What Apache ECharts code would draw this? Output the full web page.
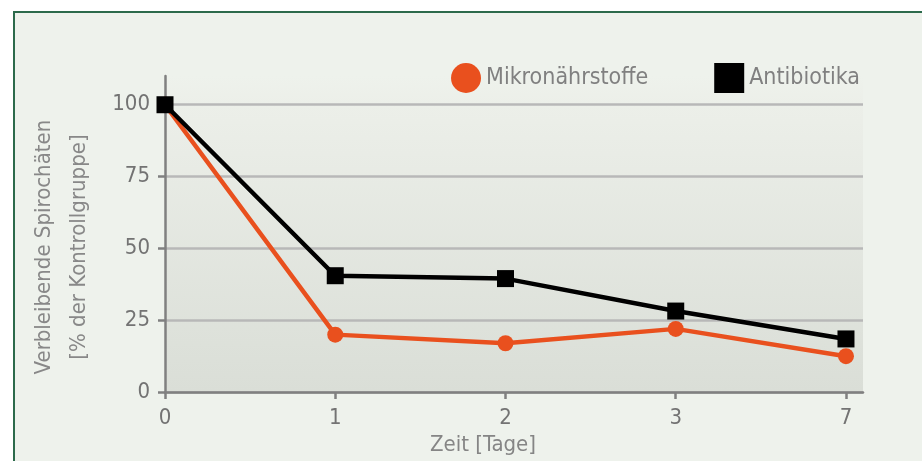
<!DOCTYPE html>
<html>
<head>
<meta charset="utf-8">
<script src="https://cdn.jsdelivr.net/npm/echarts@6/dist/echarts.min.js"></script>
<style>
  html, body { margin:0; padding:0; background:#ffffff; overflow:hidden; }
  #frame { position:absolute; left:13px; top:11px; width:1000px; height:1000px;
           border:2px solid #2c6a4b; background:#eef2ec; }
  #chart { position:absolute; left:0; top:0; width:922px; height:461px; }
</style>
</head>
<body>
<div id="frame"></div>
<div id="chart"></div>
<script>
const categories = ['0', '1', '2', '3', '7'];
const mikronaehrstoffe = [100, 20, 17, 22, 12.5];
const antibiotika = [100, 40.5, 39.5, 28.2, 18.5];
const yTicks = [0, 25, 50, 75, 100];
const xTicks = [0, 1, 2, 3, 4];
const Y_MAX = 110;
const X_MAX = 4.1;

const FONT = "'DejaVu Sans Condensed', 'DejaVu Sans', sans-serif";
const GRAY = '#737373';

const chart = echarts.init(document.getElementById('chart'), null, {renderer: 'canvas'});

function toPairs(arr) { return arr.map((v, i) => [i, v]); }

const topFrac = (Y_MAX - yTicks[yTicks.length - 1]) / Y_MAX;

chart.setOption({
  backgroundColor: 'transparent',
  animation: false,
  textStyle: { fontFamily: FONT },
  grid: {
    left: 165, right: 59, top: 76, bottom: 68, containLabel: false,
    show: true, borderWidth: 0,
    backgroundColor: new echarts.graphic.LinearGradient(0, 0, 0, 1, [
      { offset: 0, color: '#eef2ec' },
      { offset: topFrac, color: '#ecefe9' },
      { offset: 1, color: '#dadeD7' }
    ])
  },
  legend: {
    right: 57, top: 58,
    itemWidth: 30, itemHeight: 30, itemGap: 66,
    textStyle: { fontFamily: FONT, fontSize: 23, color: '#808080' },
    data: [
      { name: 'Mikronährstoffe', icon: 'circle' },
      { name: 'Antibiotika', icon: 'rect' }
    ]
  },
  xAxis: {
    type: 'value', min: 0, max: X_MAX,
    name: 'Zeit [Tage]', nameLocation: 'middle', nameGap: 39,
    nameTextStyle: { fontFamily: FONT, fontSize: 22, color: '#858585', padding: [0, 62, 0, 0] },
    axisLine: { show: true, lineStyle: { color: '#808080', width: 2.5 } },
    axisTick: { show: true, length: 7, customValues: xTicks, lineStyle: { color: '#808080', width: 2.5 } },
    axisLabel: { customValues: xTicks, margin: 15, fontFamily: FONT, fontSize: 22, color: GRAY,
                 formatter: v => categories[Math.round(v)] },
    splitLine: { show: false }
  },
  yAxis: {
    type: 'value', min: 0, max: Y_MAX,
    name: 'Verbleibende Spirochäten\n[% der Kontrollgruppe]',
    nameLocation: 'middle', nameRotate: 90, nameGap: 68,
    nameTextStyle: { fontFamily: FONT, fontSize: 22, color: '#888888', lineHeight: 35,
                     align: 'center', padding: [0, 26, 0, 0] },
    axisLine: { show: true, lineStyle: { color: '#808080', width: 2.5 } },
    axisTick: { show: true, length: 7, customValues: yTicks, lineStyle: { color: '#808080', width: 2.5 } },
    axisLabel: { customValues: yTicks, margin: 15, fontFamily: FONT, fontSize: 22, color: GRAY },
    splitLine: { show: true, lineStyle: { color: '#b8b8b8', width: 2.5 } }
  },
  series: [
    {
      name: 'Mikronährstoffe', type: 'line',
      data: toPairs(mikronaehrstoffe),
      symbol: 'circle', symbolSize: 16,
      lineStyle: { color: '#e9501e', width: 4.5 },
      itemStyle: { color: '#e9501e' },
      z: 3
    },
    {
      name: 'Antibiotika', type: 'line',
      data: toPairs(antibiotika),
      symbol: 'rect', symbolSize: 17,
      lineStyle: { color: '#000000', width: 4.5 },
      itemStyle: { color: '#000000' },
      z: 4
    }
  ]
});
</script>
</body>
</html>
